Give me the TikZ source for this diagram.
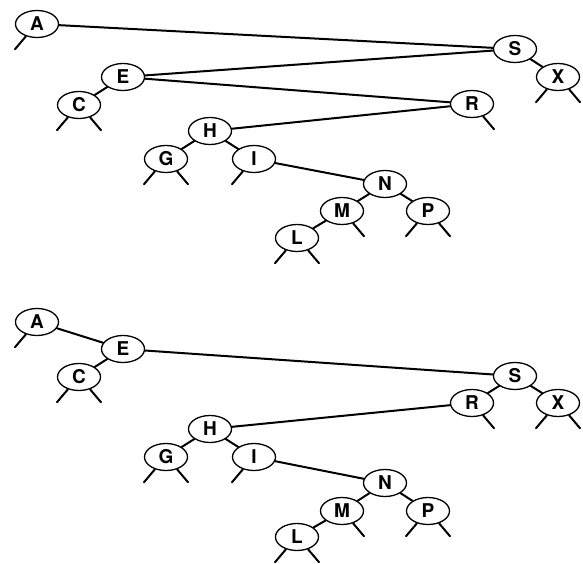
\documentclass[tikz,border=0pt]{standalone}
\usepackage{fontspec}
\setmainfont{TeX Gyre Heros}
\usetikzlibrary{shapes.geometric}

\begin{document}
\begin{tikzpicture}[x=1pt,y=-1pt,line join=round,line cap=round,
  bstnode/.style={draw,ellipse,line width=1.3pt,minimum width=43pt,minimum height=27pt,inner sep=0pt,
    font=\fontsize{19}{19}\selectfont\bfseries},
  link/.style={line width=2pt}]
\useasboundingbox (0,0) rectangle (583,564);
% top tree
\node[bstnode] (tA) at (37,24) {A};
\node[bstnode] (tE) at (123,77) {E};
\node[bstnode] (tC) at (79,105) {C};
\node[bstnode] (tH) at (210,131) {H};
\node[bstnode] (tG) at (166,159) {G};
\node[bstnode] (tI) at (254,159) {I};
\node[bstnode] (tS) at (515,49) {S};
\node[bstnode] (tX) at (558,77) {X};
\node[bstnode] (tR) at (472,104) {R};
\node[bstnode] (tN) at (385,184) {N};
\node[bstnode] (tM) at (342,211) {M};
\node[bstnode] (tP) at (428,211) {P};
\node[bstnode] (tL) at (297,238) {L};
\foreach \a/\b in {tA/tS,tE/tS,tE/tR,tE/tC,tH/tR,tH/tG,tH/tI,tI/tN,tN/tM,tN/tP,tM/tL,tS/tX}
  \draw[link] (\a) -- (\b);
% bottom tree
\node[bstnode] (bA) at (37,322) {A};
\node[bstnode] (bE) at (123,349) {E};
\node[bstnode] (bC) at (79,377) {C};
\node[bstnode] (bH) at (210,429) {H};
\node[bstnode] (bG) at (166,457) {G};
\node[bstnode] (bI) at (254,457) {I};
\node[bstnode] (bS) at (515,376) {S};
\node[bstnode] (bR) at (472,403) {R};
\node[bstnode] (bX) at (558,403) {X};
\node[bstnode] (bN) at (385,483) {N};
\node[bstnode] (bM) at (342,511) {M};
\node[bstnode] (bP) at (428,511) {P};
\node[bstnode] (bL) at (297,537) {L};
\foreach \a/\b in {bA/bE,bE/bC,bE/bS,bS/bR,bS/bX,bR/bH,bH/bG,bH/bI,bI/bN,bN/bM,bN/bP,bM/bL}
  \draw[link] (\a) -- (\b);
% null links
\foreach \n in {tA,tC,tG,tI,tL,tX,tP,bA,bC,bG,bI,bL,bX,bP}
  \draw[link] (\n.228) -- ++(-11,13);
\foreach \n in {tC,tG,tR,tX,tM,tP,tL,bC,bG,bR,bX,bM,bP,bL}
  \draw[link] (\n.312) -- ++(11,13);
\end{tikzpicture}
\end{document}
